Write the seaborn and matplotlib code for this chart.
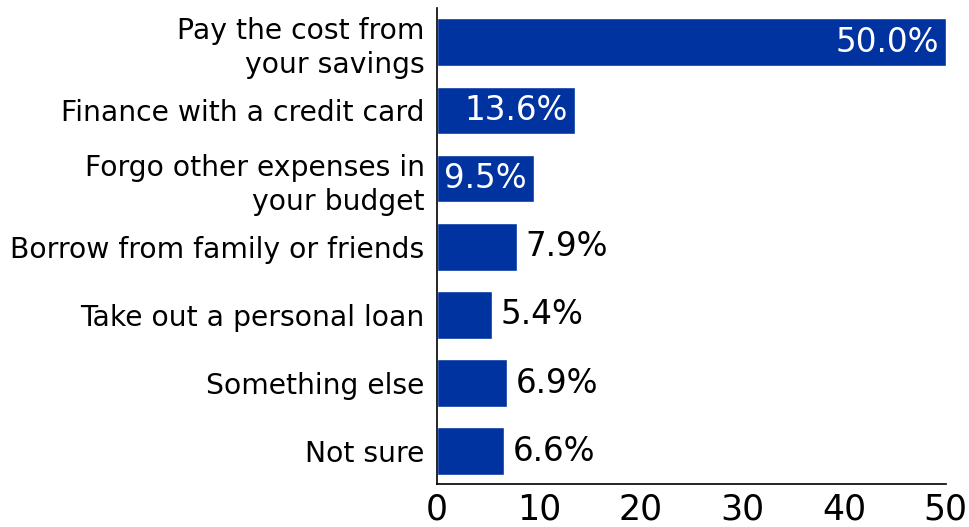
import matplotlib
matplotlib.use("Agg")
import matplotlib.pyplot as plt
import seaborn as sns
import pandas as pd

categories = [
    "Pay the cost from\nyour savings",
    "Finance with a credit card",
    "Forgo other expenses in\nyour budget",
    "Borrow from family or friends",
    "Take out a personal loan",
    "Something else",
    "Not sure",
]
values = [50.0, 13.6, 9.5, 7.9, 5.4, 6.9, 6.6]
xticks = [0, 10, 20, 30, 40, 50]

sns.set_theme(style="white")
plt.rcParams["font.family"] = ["DejaVu Sans"]
plt.rcParams["text.color"] = "black"

df = pd.DataFrame({"answer": categories, "share": values})

fig = plt.figure(figsize=(9.69, 5.27), dpi=100)
ax = fig.add_axes([0.451, 0.0816, 0.525, 0.903])

bar_color = "#0033A0"
sns.barplot(data=df, x="share", y="answer", orient="h", color=bar_color,
            width=0.70, saturation=1, ax=ax)

ax.set_xlim(0, 50)
ax.set_ylim(6.48, -0.5)
ax.set_xticks(xticks)
ax.set_xticklabels([str(t) for t in xticks])
ax.set_xlabel("")
ax.set_ylabel("")

for s in ["top", "right"]:
    ax.spines[s].set_visible(False)
for s in ["left", "bottom"]:
    ax.spines[s].set_color("black")
    ax.spines[s].set_linewidth(1.2)

ax.tick_params(axis="x", direction="in", length=9, width=1.2, color="black",
               labelsize=25, pad=6, labelcolor="black")
ax.tick_params(axis="y", length=0, labelsize=20.3, pad=9, labelcolor="black")
for lbl in ax.get_yticklabels():
    lbl.set_horizontalalignment("right")
    lbl.set_multialignment("right")
    lbl.set_linespacing(1.28)

for i, v in enumerate(values):
    text = f"{v:.1f}%"
    if v >= 9:
        ax.text(v - 0.7, i, text, ha="right", va="center", color="white",
                fontsize=23.5)
    else:
        ax.text(v + 0.8, i, text, ha="left", va="center", color="black",
                fontsize=23.5)

fig.savefig("out.png", dpi=100)
